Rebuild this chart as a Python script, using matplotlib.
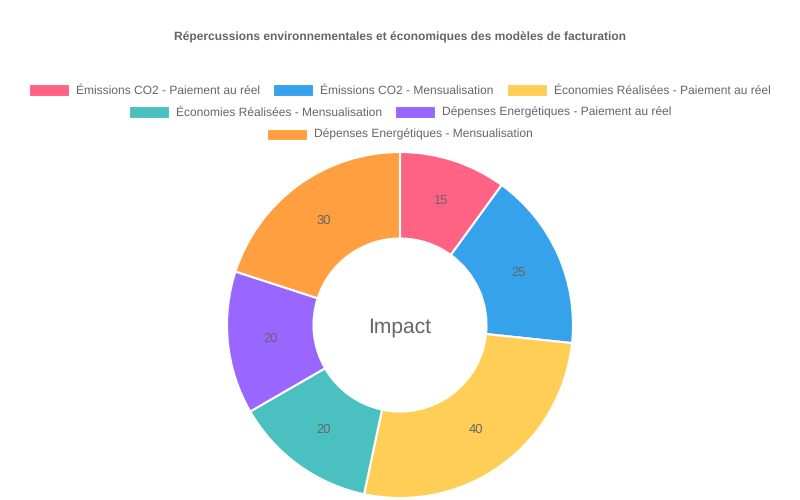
import matplotlib
matplotlib.use("Agg")
import matplotlib.pyplot as plt
from matplotlib.patches import Rectangle
import numpy as np

plt.rcParams['font.family'] = ['Liberation Sans', 'DejaVu Sans']
plt.rcParams['text.hinting'] = 'no_hinting'
plt.rcParams['text.hinting_factor'] = 1

labels = ["Émissions CO2 - Paiement au réel", "Émissions CO2 - Mensualisation",
          "Économies Réalisées - Paiement au réel", "Économies Réalisées - Mensualisation",
          "Dépenses Energétiques - Paiement au réel", "Dépenses Energétiques - Mensualisation"]
values = [15, 25, 40, 20, 20, 30]
colors = ["#FF6384", "#36A2EB", "#FFCE56", "#4BC0C0", "#9966FF", "#FF9F40"]
title = "Répercussions environnementales et économiques des modèles de facturation"
center_text = "Impact"

W, H = 800, 500
fig = plt.figure(figsize=(8, 5), dpi=100)
fig.patch.set_facecolor("white")
grey = "#666666"

cx, cy, R = 400, 325, 173
ax = fig.add_axes([(cx - R) / W, (H - cy - R) / H, 2 * R / W, 2 * R / H])
inner = 0.5
wedges, _ = ax.pie(values, colors=colors, startangle=90, counterclock=False, radius=1,
                   wedgeprops=dict(width=1 - inner, edgecolor="white", linewidth=1.5))
ax.set_xlim(-1, 1)
ax.set_ylim(-1, 1)
ax.set_aspect("equal")
ax.axis("off")
total = sum(values)
ang = 90
for v in values:
    mid = ang - 360 * v / total / 2
    r = (1 + inner) / 2
    ax.text(r * np.cos(np.radians(mid)), r * np.sin(np.radians(mid)), str(v),
            ha="center", va="center", fontsize=9, color=grey)
    ang -= 360 * v / total
ax.text(0, -0.01, center_text, ha="center", va="center", fontsize=15, color=grey)

fig.text(0.5, 1 - 37 / H, title, ha="center", va="center", fontsize=8.6,
         fontweight="bold", color=grey)

# legend, manual rows centered
rows = [[0, 1, 2], [3, 4], [5]]
row_y = [90, 112, 134]
fig.canvas.draw()
renderer = fig.canvas.get_renderer()
boxw, boxh, gap, spacing = 40, 11, 7, 13
lfs = 8.9
for row, y in zip(rows, row_y):
    widths = []
    for i in row:
        t = fig.text(0, 0, labels[i], fontsize=lfs, color=grey)
        bb = t.get_window_extent(renderer)
        widths.append(bb.width)
        t.remove()
    total_w = sum(boxw + gap + w for w in widths) + spacing * (len(row) - 1)
    x = W / 2 - total_w / 2
    for i, w in zip(row, widths):
        fig.patches.append(Rectangle((x / W, (H - y - boxh / 2) / H), boxw / W, boxh / H,
                                     transform=fig.transFigure, facecolor=colors[i],
                                     edgecolor="white", linewidth=0.8))
        fig.text((x + boxw + gap) / W, 1 - (y + 0.5) / H, labels[i], fontsize=lfs, color=grey,
                 ha="left", va="center")
        x += boxw + gap + w + spacing

fig.savefig("out.png", dpi=100, facecolor="white")
